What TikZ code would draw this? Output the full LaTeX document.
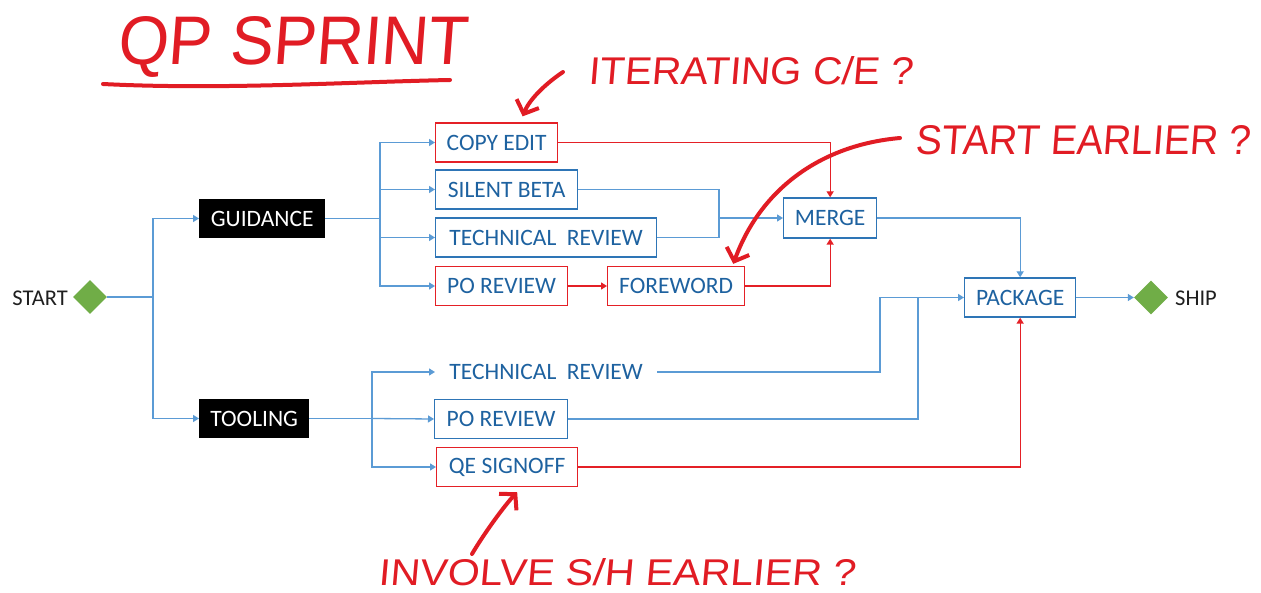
\documentclass[tikz,border=0pt]{standalone}
\usepackage{fontspec}
\usepackage{graphicx}
\setmainfont{Carlito}
\newfontfamily\hand[FakeSlant=0.08]{Liberation Sans}
\usetikzlibrary{arrows.meta,shapes.geometric}
\definecolor{lineblue}{RGB}{91,155,213}
\definecolor{boxblue}{RGB}{46,117,182}
\definecolor{txtblue}{RGB}{30,98,160}
\definecolor{lred}{RGB}{228,32,38}
\definecolor{hred}{RGB}{225,28,36}
\definecolor{dgreen}{RGB}{112,173,71}
\newcommand\boxfont{\fontsize{23.5}{28}\selectfont}
\newcommand\lblfont{\fontsize{22.5}{27}\selectfont}
\begin{document}
\begin{tikzpicture}[x=1pt,y=-1pt,
  box/.style={draw=boxblue, line width=1.3pt, text=txtblue, minimum height=39pt,
              inner sep=0pt, anchor=west, font=\boxfont},
  rbox/.style={box, draw=lred},
  blk/.style={fill=black, text=white, minimum height=39pt, inner sep=0pt,
              anchor=west, font=\boxfont},
  dia/.style={diamond, fill=dgreen, minimum size=34pt, inner sep=0pt},
  lbl/.style={font=\lblfont, text=black!88, inner sep=0pt},
  bl/.style={draw=lineblue, line width=1.3pt},
  rl/.style={draw=lred, line width=1.3pt},
  arr/.style={-{Triangle[length=6pt,width=7pt]}},
  hw/.style={draw=hred, line width=4pt, line cap=round, line join=round,
             -{Straight Barb[length=11pt,width=24pt]}},
  htxt/.style={text=hred, inner sep=0pt, anchor=base west}]
\useasboundingbox (0,0) rectangle (1261,593);
\fill[white] (0,0) rectangle (1261,593);

% start / ship
\node[dia] (start) at (90,297) {};
\node[lbl, anchor=east] (starttxt) at (68,298) {START};
\node[dia] (ship) at (1151,297.5) {};
\node[lbl, anchor=west] (shiptxt) at (1175,298) {SHIP};

% main branches
\node[blk, minimum width=126pt] (guid) at (199,218.5) {GUIDANCE};
\node[blk, minimum width=110pt] (tool) at (199,418.5) {TOOLING};

% guidance tasks
\node[rbox, minimum width=122pt] (ce)  at (435,142.5) {COPY EDIT};
\node[box,  minimum width=142pt] (sb)  at (435,189.5) {SILENT BETA};
\node[box,  minimum width=221pt] (tr1) at (435,237.5) {TECHNICAL\ \ REVIEW};
\node[rbox, minimum width=132pt] (po1) at (435,286)   {PO REVIEW};
\node[rbox, minimum width=137pt] (fw)  at (607,286)   {FOREWORD};
\node[box,  minimum width=93pt, minimum height=40pt] (merge) at (783,218) {MERGE};

% tooling tasks
\node[box, draw=none, minimum width=221pt] (tr2) at (435,372) {TECHNICAL\ \ REVIEW};
\node[box,  minimum width=133pt] (po2) at (434,419) {PO REVIEW};
\node[rbox, minimum width=141pt] (qe)  at (436,467) {QE SIGNOFF};

\node[box, minimum width=111pt] (pkg) at (964,297.5) {PACKAGE};

% junctions
\coordinate (j1) at (153,297);
\coordinate (j2) at (380,218.5);
\coordinate (j3) at (372,418.5);
\coordinate (j4) at (719,218);
\coordinate (j5) at (880,297.5);
\coordinate (j6) at (918,297.5);

% connectors
\draw[bl] (start.east) -- (j1);
\draw[bl,arr] (j1) |- (guid.west);
\draw[bl,arr] (j1) |- (tool.west);

\draw[bl] (guid.east) -- (j2);
\draw[bl,arr] (j2) |- (ce.west);
\draw[bl,arr] (j2) |- (sb.west);
\draw[bl,arr] (j2) |- (tr1.west);
\draw[bl,arr] (j2) |- (po1.west);

\draw[bl] (tool.east) -- (j3);
\draw[bl,arr] (j3) |- (tr2.west);
\draw[bl,arr] (j3) -- (po2.west);
\draw[bl,arr] (j3) |- (qe.west);

\draw[rl,arr] (po1.east) -- (fw.west);
\draw[bl] (sb.east) -| (j4);
\draw[bl] (tr1.east) -| (j4);
\draw[bl,arr] (j4) -- (merge.west);
\draw[rl,arr] (ce.east) -| (merge.north);
\draw[rl,arr] (fw.east) -| (merge.south);

\draw[bl,arr] (merge.east) -| (pkg.north);
\draw[bl] (tr2.east) -| (j5);
\draw[bl,arr] (j5) -- (pkg.west);
\draw[bl] (po2.east) -| (j6);
\draw[rl,arr] (qe.east) -| (pkg.south);
\draw[bl,arr] (pkg.east) -- (ship.west);

% handwritten notes
\node[htxt] (title) at (117,65) {\resizebox{350pt}{48pt}{\hand QP SPRINT}};
\draw[draw=hred, line width=4pt, line cap=round]
  (103,84) .. controls (220,90) and (350,82) .. (450,80);

\node[htxt] (iter)  at (588,85)  {\resizebox{325pt}{28pt}{\hand ITERATING C/E ?}};
\node[htxt] (early) at (915,155) {\resizebox{335pt}{29pt}{\hand START EARLIER ?}};
\node[htxt] (inv)   at (378,585) {\resizebox{477pt}{27pt}{\hand INVOLVE S/H EARLIER ?}};

\draw[hw] ([shift={(-25,-13)}]iter.base west)
  .. controls (548,82) and (530,98) .. ([shift={(26,-6)}]ce.north);
\draw[hw] ([shift={(-15,-17)}]early.base west)
  .. controls (820,145) and (760,190) .. ([shift={(-12,-2)}]fw.north east);
\draw[hw] ([shift={(94,-31)}]inv.base west)
  .. controls (485,532) and (505,505) .. ([shift={(10,5)}]qe.south);
\end{tikzpicture}
\end{document}
